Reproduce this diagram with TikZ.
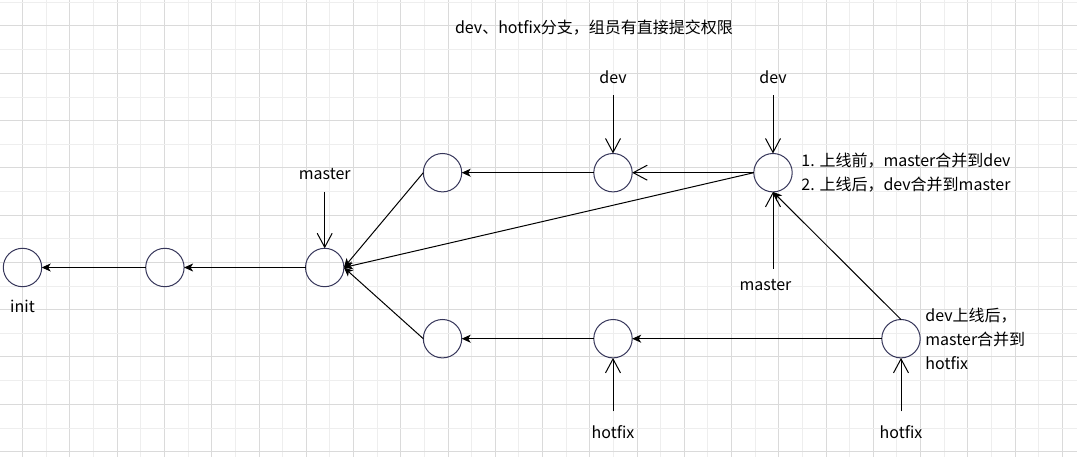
\documentclass[tikz,border=0pt]{standalone}
\usepackage{fontspec}
\setmainfont{Noto Sans CJK SC}
\usetikzlibrary{arrows.meta, positioning}

\definecolor{ringblue}{RGB}{54,54,90}
\definecolor{gridlight}{RGB}{238,238,238}
\definecolor{griddark}{RGB}{218,218,218}

\begin{document}
\begin{tikzpicture}[
    x=1pt, y=-1pt, node distance=10pt,
    font=\fontsize{16}{24}\selectfont,
    commit/.style={draw=ringblue, line width=1pt, circle, minimum size=38.4pt,
                   inner sep=0pt, outer sep=0pt},
    branch/.style={inner xsep=0pt, inner ysep=9pt, text height=12pt, text depth=3pt},
    parent/.style={line width=1pt, -{Stealth[length=9pt, width=8pt, inset=2.5pt]}},
    pointer/.style={line width=1pt, -{Straight Barb[length=14pt, width=15pt]}},
    note/.style={align=left, inner sep=0pt}
  ]
  % background grid
  \useasboundingbox (0,0) rectangle (1077,457);
  \fill[white] (0,0) rectangle (1077,457);
  \foreach \k in {0,...,21}
    \draw[gridlight, line width=1pt] ({46.3+47.26*\k},0) -- ++(0,457);
  \foreach \k in {0,...,22}
    \draw[griddark, line width=1pt] ({22.7+47.26*\k},0) -- ++(0,457);
  \foreach \k in {0,...,9} {
    \draw[gridlight, line width=1pt] (0,{2.7+47.26*\k}) -- ++(1077,0);
    \draw[griddark, line width=1pt] (0,{26+47.26*\k}) -- ++(1077,0);
  }

  \node (title) at (594,28) {dev、hotfix分支，组员有直接提交权限};

  % commits
  \node[commit] (init) at (22.5,267.5) {};
  \node[commit, right=104pt of init] (c1) {};
  \node[commit, right=121.4pt of c1] (m) {};
  \node[commit] (ul) at (442.5,172.7) {};
  \node[commit, right=132.1pt of ul] (um) {};
  \node[commit, right=121.6pt of um] (ur) {};
  \node[commit] (ll) at (442.5,338.7) {};
  \node[commit, right=132.1pt of ll] (lm) {};
  \node[commit, right=249.6pt of lm] (lr) {};

  % branch names
  \node[branch, below=4.4pt of init] (inittag) {init};
  \node[branch, above=56.5pt of m] (mtag) {master};
  \node[branch, above=58pt of um] (devtag) {dev};
  \node[branch, above=58pt of ur] (devtag2) {dev};
  \node[branch, below=77pt of ur, xshift=-7.5pt] (mtag2) {master};
  \node[branch, inner ysep=15pt, below=53.4pt of lm] (fixtag) {hotfix};
  \node[branch, inner ysep=15pt, below=53.4pt of lr] (fixtag2) {hotfix};

  % notes
  \node[note, right=9pt of ur] (urnote)
    {1. 上线前，master合并到dev\\2. 上线后，dev合并到master};
  \node[note, right=5pt of lr] (lrnote) {dev上线后，\\master合并到\\hotfix};

  % history
  \draw[parent] (c1) -- (init);
  \draw[parent] (m) -- (c1);
  \draw[parent] (ul.west) -- (m.east);
  \draw[parent] (ur.west) -- (m.east);
  \draw[parent] (ll.west) -- (m.east);
  \draw[parent] (um) -- (ul);
  \draw[pointer] (ur) -- (um);
  \draw[parent] (lm) -- (ll);
  \draw[parent] (lr) -- (lm);
  \draw[parent] (lr.north) -- (ur.south);

  % refs
  \draw[pointer] (mtag) -- (m);
  \draw[pointer] (devtag) -- (um);
  \draw[pointer] (devtag2) -- (ur);
  \draw[pointer] (mtag2.north -| ur.south) -- (ur);
  \draw[pointer] (fixtag) -- (lm);
  \draw[pointer] (fixtag2) -- (lr);
\end{tikzpicture}
\end{document}
